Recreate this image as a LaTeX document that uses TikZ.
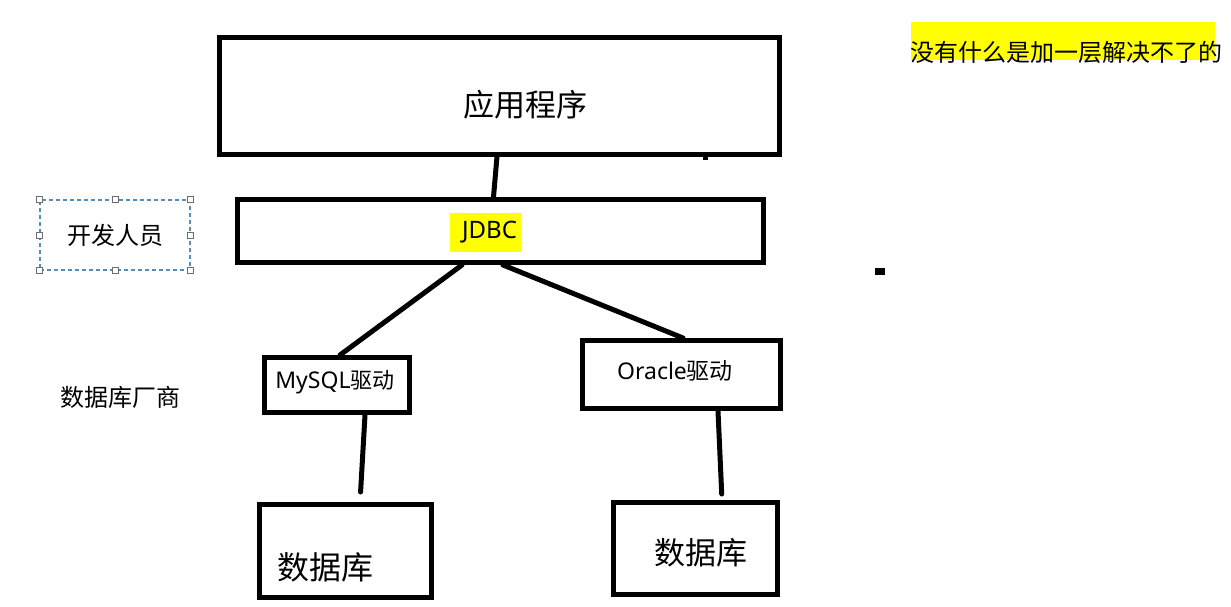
\documentclass[tikz,border=0pt]{standalone}
\usepackage{fontspec}
\setmainfont{Noto Sans CJK SC}
\newfontfamily\latinfont{Noto Sans}
\definecolor{marker}{RGB}{255,255,0}
\definecolor{selblue}{RGB}{84,141,186}
\definecolor{handlegray}{RGB}{110,110,110}
\tikzset{
  box/.style={draw, line width=5pt, inner sep=0pt},
  link/.style={line width=5pt, line cap=round},
  handle/.style={draw=handlegray, fill=white, line width=0.8pt, minimum size=6pt, inner sep=0pt},
}
\newcommand{\px}[1]{\fontsize{#1pt}{#1pt}\selectfont}
\begin{document}
\begin{tikzpicture}[x=1pt, y=-1pt]
  \useasboundingbox[fill=white] (0,0) rectangle (1231,607);

  % boxes
  \node (app)    [box, minimum width=560pt, minimum height=116pt] at (499,96) {};
  \node (jdbc)   [box, minimum width=526pt, minimum height=63pt] at (500.5,231) {};
  \node (mysql)  [box, minimum width=145pt, minimum height=55pt] at (337,385) {};
  \node (oracle) [box, minimum width=198pt, minimum height=68pt] at (681.5,374.5) {};
  \node (db1)    [box, minimum width=172pt, minimum height=93pt] at (345.5,551) {};
  \node (db2)    [box, minimum width=164pt, minimum height=92pt] at (695.5,548.5) {};

  % texts
  \node (apptext) at (525,105) {\px{31}应用程序};
  \node (jdbctext) [fill=marker, minimum width=71pt, minimum height=39pt, inner sep=0pt] at (485.5,232.5) {\px{24}\hspace{8pt}\latinfont JDBC};
  \node (mysqltext) at (335,382) {\px{22}{\latinfont\px{23}MySQL}驱动};
  \node (oracletext) at (675,371) {\px{23}{\latinfont Oracle}驱动};
  \node (db1text) at (325,567) {\px{32}数据库};
  \node (db2text) at (701,553) {\px{31}数据库};
  \node (vendor) at (120,397) {\px{24}数据库厂商};

  % selected text box
  \node (dev) [draw=selblue, dashed, dash pattern=on 4pt off 3pt, line width=1.2pt,
    minimum width=150pt, minimum height=70pt] at (115,235) {\px{24}开发人员};
  \foreach \a in {north west, north, north east, east, south east, south, south west, west}
    \node[handle] at (dev.\a) {};

  % note top right
  \fill[marker] (911,22) rectangle (1215,60);
  \node (note) at (1066,52) {\px{24}没有什么是加一层解决不了的};

  % connectors
  \draw[link] ([xshift=-2pt]app.south) -- ([xshift=-7pt]jdbc.north);
  \draw[link] ([xshift=-38.5pt]jdbc.south) -- ([xshift=3pt]mysql.north);
  \draw[link] ([xshift=2.5pt]jdbc.south) -- ([xshift=1.5pt]oracle.north);
  \draw[link, shorten >=10pt] ([xshift=28pt]mysql.south) -- ([xshift=14.5pt]db1.north);
  \draw[link, shorten >=6pt] ([xshift=36.5pt]oracle.south) -- ([xshift=26.5pt]db2.north);

  % stray marks
  \fill (703,155) rectangle (708,160);
  \fill (875,268) rectangle (885,275);
\end{tikzpicture}
\end{document}
